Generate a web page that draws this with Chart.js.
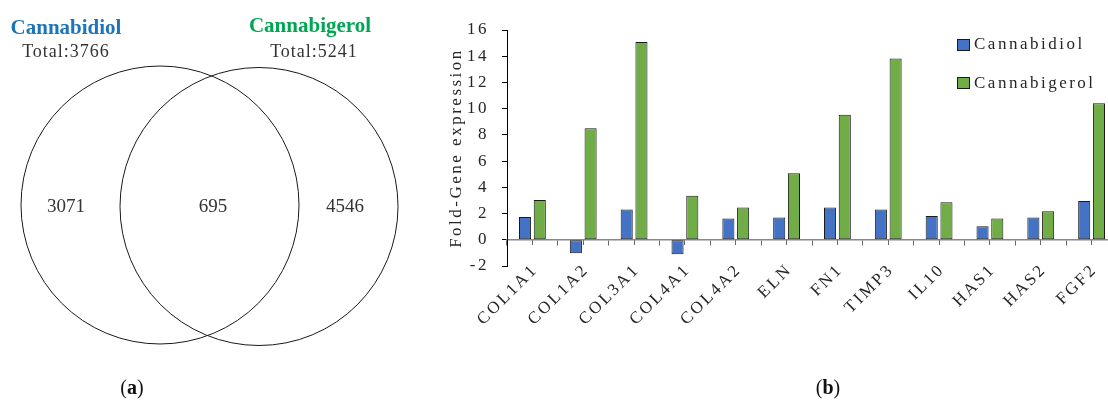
<!DOCTYPE html>
<html>
<head>
<meta charset="utf-8">
<script src="https://cdn.jsdelivr.net/npm/chart.js@4.4.0/dist/chart.umd.min.js"></script>
<style>
html, body { margin: 0; padding: 0; background: #fff; overflow: hidden; width: 1108px; height: 403px; }
body { position: relative; font-family: "Liberation Serif", serif; color: #262626; }
canvas { position: absolute; top: 0; }
#venn { left: 0; }
#bars { left: 430px; }
.t { position: absolute; white-space: nowrap; line-height: 1; }
.c { transform: translateX(-50%); }
.set { font-weight: bold; font-size: 21px; }
.total { font-size: 18px; letter-spacing: 1px; color: #333; }
.panel { font-size: 20px; color: #111; }
.leg { font-size: 17px; letter-spacing: 2.5px; color: #262626; }
.box { position: absolute; width: 11px; height: 10px; border: 1px solid #1a1a1a; }
</style>
</head>
<body>
<canvas id="venn" width="420" height="403"></canvas>
<canvas id="bars" width="700" height="403"></canvas>

<div class="t c set" style="left:66px; top:16.5px; color:#1b75bc;">Cannabidiol</div>
<div class="t c total" style="left:66px; top:41.6px;">Total:3766</div>
<div class="t c set" style="left:310px; top:15px; color:#00a651;">Cannabigerol</div>
<div class="t c total" style="left:314px; top:41.6px;">Total:5241</div>
<div class="t c panel" style="left:132px; top:377px;">(<b>a</b>)</div>
<div class="t c panel" style="left:828px; top:377px;">(<b>b</b>)</div>

<div class="box" style="left:957px; top:39px; background:#4472c4;"></div>
<div class="t leg" style="left:974px; top:35px;">Cannabidiol</div>
<div class="box" style="left:957px; top:77px; background:#70ad47;"></div>
<div class="t leg" style="left:974px; top:73.5px;">Cannabigerol</div>

<script>
// (a) venn counts
var vennSets = ['Cannabidiol', 'Cannabigerol'];
var vennTotals = [3766, 5241];
var vennOnly = [3071, 4546]; // only in one set
var vennShared = 695;

// (b) fold change per gene
var genes = ['COL1A1', 'COL1A2', 'COL3A1', 'COL4A1', 'COL4A2', 'ELN', 'FN1', 'TIMP3', 'IL10', 'HAS1', 'HAS2', 'FGF2'];
var cbd = [1.74, -1.03, 2.31, -1.10, 1.62, 1.69, 2.46, 2.31, 1.82, 1.03, 1.69, 2.95];
var cbg = [3.03, 8.51, 15.08, 3.36, 2.46, 5.08, 9.54, 13.82, 2.87, 1.62, 2.18, 10.41];
var yMin = -2, yMax = 16, yStep = 2;

Chart.defaults.font.family = '"Liberation Serif", serif';

// venn layout, in canvas pixels
var circles = [{x: 160, y: 205, r: 139}, {x: 259, y: 206.5, r: 139}];
var countPos = [{x: 66, y: 211.5}, {x: 213, y: 211.5}, {x: 345, y: 211.5}];

var vennCounts = {
	id: 'vennCounts',
	afterDatasetsDraw: function(chart) {
		var ctx = chart.ctx, sx = chart.scales.x, sy = chart.scales.y;
		var counts = [vennOnly[0], vennShared, vennOnly[1]];
		ctx.save();
		ctx.font = '19px "Liberation Serif"';
		ctx.fillStyle = '#333';
		ctx.textAlign = 'center';
		ctx.textBaseline = 'alphabetic';
		counts.forEach(function(n, i) {
			ctx.fillText(String(n), sx.getPixelForValue(countPos[i].x), sy.getPixelForValue(countPos[i].y));
		});
		ctx.restore();
	}
};

new Chart(document.getElementById('venn'), {
	type: 'scatter',
	data: {
		datasets: circles.map(function(c, i) {
			return {
				label: vennSets[i] + ' (' + vennTotals[i] + ')',
				data: [c],
				pointRadius: function(ctx) {
					if (!ctx.raw) return 0;
					var s = ctx.chart.scales.x;
					return s.getPixelForValue(ctx.raw.r) - s.getPixelForValue(0);
				},
				pointBackgroundColor: 'rgba(0,0,0,0)',
				pointBorderColor: '#1a1a1a',
				pointBorderWidth: 1
			};
		})
	},
	options: {
		responsive: false,
		animation: false,
		events: [],
		layout: {padding: 0},
		scales: {
			x: {type: 'linear', min: 0, max: 420, display: false},
			y: {type: 'linear', min: 0, max: 403, reverse: true, display: false}
		},
		plugins: {legend: {display: false}, tooltip: {enabled: false}}
	},
	plugins: [vennCounts]
});

// the figure's font is spaced out a lot
var spacing = {
	id: 'spacing',
	beforeUpdate: function(chart) { chart.ctx.letterSpacing = '2.5px'; },
	beforeDraw: function(chart) { chart.ctx.letterSpacing = '2.5px'; }
};

new Chart(document.getElementById('bars'), {
	type: 'bar',
	data: {
		labels: genes,
		datasets: [{
			label: 'Cannabidiol',
			data: cbd,
			backgroundColor: '#4472c4',
			borderColor: '#1a1a1a',
			borderWidth: 1,
			borderSkipped: false
		},
		{
			label: 'Cannabigerol',
			data: cbg,
			backgroundColor: '#70ad47',
			borderColor: '#1a1a1a',
			borderWidth: 1,
			borderSkipped: false
		}]
	},
	options: {
		responsive: false,
		animation: false,
		events: [],
		layout: {padding: {left: 0, top: 30, right: 13, bottom: 137}},
		datasets: {bar: {categoryPercentage: 0.58, barPercentage: 0.82}},
		scales: {
			x: {
				position: {y: 0},
				offset: true,
				grid: {drawOnChartArea: false, tickLength: 5, color: '#666', offset: true},
				border: {color: '#888', width: 1.5},
				ticks: {color: '#262626', font: {size: 17}, minRotation: 45, maxRotation: 45, autoSkip: false, padding: 15, labelOffset: 3}
			},
			x2: {
				type: 'category',
				position: {y: 0},
				offset: true,
				grid: {drawOnChartArea: false, tickLength: 5, color: '#666', offset: false},
				border: {display: false},
				ticks: {display: false}
			},
			y: {
				min: yMin,
				max: yMax,
				ticks: {stepSize: yStep, color: '#262626', font: {size: 17}, padding: 13},
				grid: {drawOnChartArea: false, tickLength: 5, color: '#000'},
				border: {color: '#000', width: 1},
				title: {display: true, text: 'Fold-Gene expression', color: '#262626', font: {size: 17}, padding: {top: 16}},
				afterFit: function(s) { s.width = 77; }
			}
		},
		plugins: {legend: {display: false}, tooltip: {enabled: false}}
	},
	plugins: [spacing]
});
</script>
</body>
</html>
